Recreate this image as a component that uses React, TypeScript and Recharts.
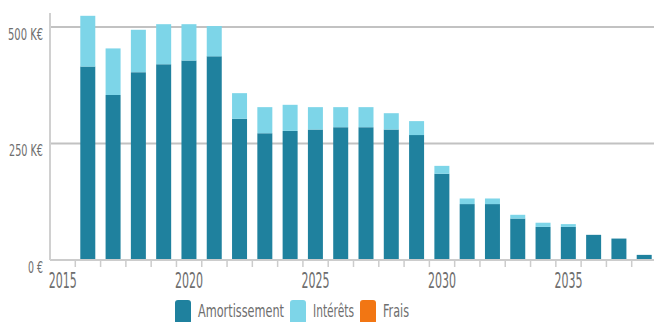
import React, { useLayoutEffect, useRef, useState } from "react";
import { BarChart, Bar, XAxis, YAxis, CartesianGrid, Legend } from "recharts";

const years = [2015, 2016, 2017, 2018, 2019, 2020, 2021, 2022, 2023, 2024, 2025, 2026, 2027, 2028, 2029, 2030, 2031, 2032, 2033, 2034, 2035, 2036, 2037, 2038];
const amortissement = [0, 415, 354, 403, 420, 428, 437, 303, 272, 277, 280, 285, 285, 280, 268, 185, 120, 120, 89, 71, 71, 54, 46, 11];
const interets = [0, 109, 100, 91, 86, 78, 65, 55, 56, 56, 48, 43, 43, 35, 30, 17, 12, 12, 8, 9, 6, 0, 0, 0];
const frais = [0, 0, 0, 0, 0, 0, 0, 0, 0, 0, 0, 0, 0, 0, 0, 0, 0, 0, 0, 0, 0, 0, 0, 0];
const yTicks = [0, 250, 500];
const yTickLabels = ["0 €", "250 K€", "500 K€"];
const yLabelWidths = [15, 34, 35];
const seriesNames = ["Amortissement", "Intérêts", "Frais"];
const seriesColors = ["#1f819e", "#7dd5e8", "#f27613"];

const data = years.map((y, i) => ({
  year: y,
  amortissement: amortissement[i],
  interets: interets[i],
  frais: frais[i],
}));

const CHART_W = 660;
const CHART_H = 322;
const MARGIN = { top: 13, right: 3, left: 0, bottom: 0 };
const Y_W = 50;
const BAND = (CHART_W - MARGIN.left - MARGIN.right - Y_W) / years.length;
const FONT = "'Liberation Sans Narrow', 'DejaVu Sans Condensed', 'Liberation Sans', sans-serif";
const TEXT_COLOR = "#6e6e6e";

// Text squeezed horizontally to a target width (condensed look of the reference)
const SqueezedText = ({ x, y, width, size, anchor, children }: any) => {
  const ref = useRef<SVGTextElement>(null);
  const [scale, setScale] = useState(0.6);
  useLayoutEffect(() => {
    if (ref.current) {
      const w = ref.current.getComputedTextLength();
      if (w > 0) setScale(width / w);
    }
  }, [width, children]);
  return (
    <text
      ref={ref}
      x={0}
      y={0}
      transform={`translate(${x},${y}) scale(${scale},1)`}
      textAnchor={anchor || "start"}
      style={{ fontSize: `${size}px`, fontFamily: FONT }}
      fill={TEXT_COLOR}
    >
      {children}
    </text>
  );
};

const XTick = (props: any) => {
  const { x, y, payload, index } = props;
  const year = payload.value;
  return (
    <g>
      {index > 0 && (
        <line x1={x - BAND / 2} x2={x - BAND / 2} y1={y} y2={y + 7} stroke="#cccccc" strokeWidth={1.5} />
      )}
      {year % 5 === 0 && (
        <SqueezedText x={x} y={y + 28} width={28} size={21} anchor="middle">
          {String(year)}
        </SqueezedText>
      )}
    </g>
  );
};

const YTick = (props: any) => {
  const { x, y, payload } = props;
  const idx = yTicks.indexOf(payload.value);
  return (
    <SqueezedText x={x} y={y + 13} width={yLabelWidths[idx]} size={15} anchor="end">
      {yTickLabels[idx]}
    </SqueezedText>
  );
};

const legendTextWidths = [86, 41, 26];
const LEGEND_START = 175;
const LEGEND_GAP = 6;

const renderLegend = () => {
  let cursor = LEGEND_START;
  const items = seriesNames.map((name, i) => {
    const sx = cursor;
    cursor += 23 + legendTextWidths[i] + LEGEND_GAP;
    return (
      <g key={name}>
        <rect x={sx} y={0} width={16} height={24} rx={3} ry={3} fill={seriesColors[i]} />
        <SqueezedText x={sx + 23} y={17} width={legendTextWidths[i]} size={18}>
          {name}
        </SqueezedText>
      </g>
    );
  });
  return (
    <svg width={CHART_W} height={22} style={{ display: "block" }}>
      {items}
    </svg>
  );
};

export default function App() {
  return (
    <div style={{ position: "fixed", left: 0, top: 0, width: 654, height: 322, overflow: "hidden", background: "#fff" }}>
      <BarChart width={CHART_W} height={CHART_H} data={data} margin={MARGIN} barSize={15}>
        <CartesianGrid vertical={false} horizontalValues={[250, 500]} stroke="#c2c2c2" strokeWidth={2} />
        <XAxis
          dataKey="year"
          type="category"
          interval={0}
          tickLine={false}
          tickSize={0}
          tickMargin={0}
          height={40}
          axisLine={{ stroke: "#cccccc", strokeWidth: 2 }}
          tick={(p: any) => <XTick {...p} />}
        />
        <YAxis
          width={Y_W}
          domain={[0, 530]}
          ticks={yTicks}
          interval={0}
          tickLine={false}
          tickSize={0}
          tickMargin={7}
          axisLine={{ stroke: "#d0d0d0", strokeWidth: 2 }}
          tick={(p: any) => <YTick {...p} />}
        />
        <Legend verticalAlign="bottom" content={renderLegend} wrapperStyle={{ left: 0, width: CHART_W }} />
        <Bar dataKey="amortissement" name={seriesNames[0]} stackId="a" fill={seriesColors[0]} isAnimationActive={false} />
        <Bar dataKey="interets" name={seriesNames[1]} stackId="a" fill={seriesColors[1]} isAnimationActive={false} />
        <Bar dataKey="frais" name={seriesNames[2]} stackId="a" fill={seriesColors[2]} isAnimationActive={false} />
      </BarChart>
    </div>
  );
}
